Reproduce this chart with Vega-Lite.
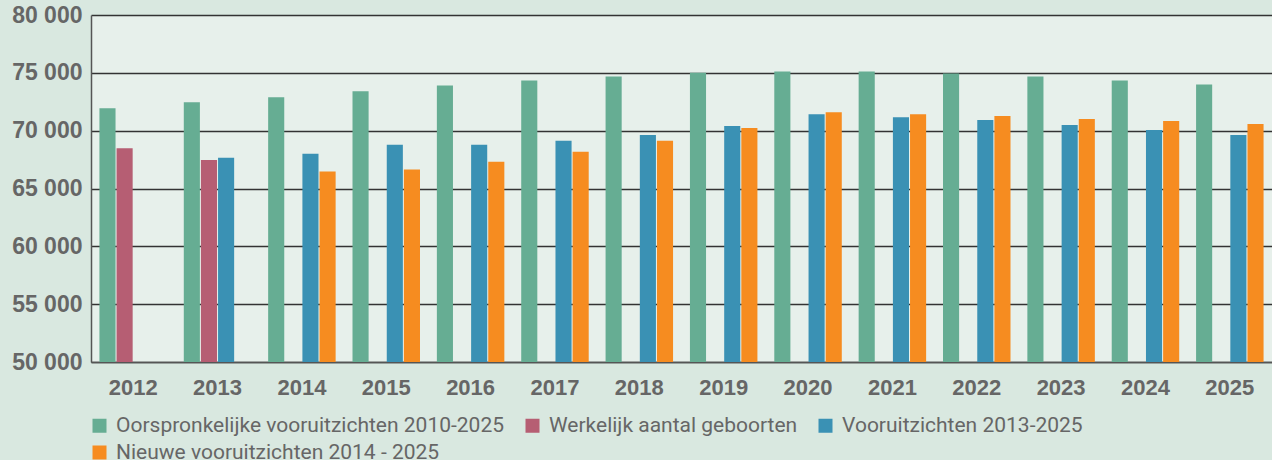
{
  "$schema": "https://vega.github.io/schema/vega-lite/v6.json",
  "autosize": {"type": "none"},
  "padding": {"left": 91, "top": 15, "right": 0, "bottom": 98},
  "width": 1181,
  "height": 347,
  "background": "#d9e8e0",
  "config": {
    "view": {"fill": "#e7f0eb", "stroke": null},
    "font": "Liberation Sans"
  },
  "data": {
    "values": [
      {"year": "2012", "series": "Oorspronkelijke vooruitzichten 2010-2025", "value": 71940},
      {"year": "2013", "series": "Oorspronkelijke vooruitzichten 2010-2025", "value": 72460},
      {"year": "2014", "series": "Oorspronkelijke vooruitzichten 2010-2025", "value": 72890},
      {"year": "2015", "series": "Oorspronkelijke vooruitzichten 2010-2025", "value": 73400},
      {"year": "2016", "series": "Oorspronkelijke vooruitzichten 2010-2025", "value": 73910},
      {"year": "2017", "series": "Oorspronkelijke vooruitzichten 2010-2025", "value": 74340},
      {"year": "2018", "series": "Oorspronkelijke vooruitzichten 2010-2025", "value": 74680},
      {"year": "2019", "series": "Oorspronkelijke vooruitzichten 2010-2025", "value": 75000},
      {"year": "2020", "series": "Oorspronkelijke vooruitzichten 2010-2025", "value": 75110},
      {"year": "2021", "series": "Oorspronkelijke vooruitzichten 2010-2025", "value": 75110},
      {"year": "2022", "series": "Oorspronkelijke vooruitzichten 2010-2025", "value": 74950},
      {"year": "2023", "series": "Oorspronkelijke vooruitzichten 2010-2025", "value": 74680},
      {"year": "2024", "series": "Oorspronkelijke vooruitzichten 2010-2025", "value": 74340},
      {"year": "2025", "series": "Oorspronkelijke vooruitzichten 2010-2025", "value": 74000},
      {"year": "2012", "series": "Werkelijk aantal geboorten", "value": 68490},
      {"year": "2013", "series": "Werkelijk aantal geboorten", "value": 67470},
      {"year": "2013", "series": "Vooruitzichten 2013-2025", "value": 67660},
      {"year": "2014", "series": "Vooruitzichten 2013-2025", "value": 68010},
      {"year": "2015", "series": "Vooruitzichten 2013-2025", "value": 68780},
      {"year": "2016", "series": "Vooruitzichten 2013-2025", "value": 68780},
      {"year": "2017", "series": "Vooruitzichten 2013-2025", "value": 69120},
      {"year": "2018", "series": "Vooruitzichten 2013-2025", "value": 69630},
      {"year": "2019", "series": "Vooruitzichten 2013-2025", "value": 70400},
      {"year": "2020", "series": "Vooruitzichten 2013-2025", "value": 71430},
      {"year": "2021", "series": "Vooruitzichten 2013-2025", "value": 71170},
      {"year": "2022", "series": "Vooruitzichten 2013-2025", "value": 70920},
      {"year": "2023", "series": "Vooruitzichten 2013-2025", "value": 70490},
      {"year": "2024", "series": "Vooruitzichten 2013-2025", "value": 70060},
      {"year": "2025", "series": "Vooruitzichten 2013-2025", "value": 69630},
      {"year": "2014", "series": "Nieuwe vooruitzichten 2014 - 2025", "value": 66460},
      {"year": "2015", "series": "Nieuwe vooruitzichten 2014 - 2025", "value": 66640},
      {"year": "2016", "series": "Nieuwe vooruitzichten 2014 - 2025", "value": 67320},
      {"year": "2017", "series": "Nieuwe vooruitzichten 2014 - 2025", "value": 68180},
      {"year": "2018", "series": "Nieuwe vooruitzichten 2014 - 2025", "value": 69120},
      {"year": "2019", "series": "Nieuwe vooruitzichten 2014 - 2025", "value": 70230},
      {"year": "2020", "series": "Nieuwe vooruitzichten 2014 - 2025", "value": 71600},
      {"year": "2021", "series": "Nieuwe vooruitzichten 2014 - 2025", "value": 71430},
      {"year": "2022", "series": "Nieuwe vooruitzichten 2014 - 2025", "value": 71260},
      {"year": "2023", "series": "Nieuwe vooruitzichten 2014 - 2025", "value": 71000},
      {"year": "2024", "series": "Nieuwe vooruitzichten 2014 - 2025", "value": 70830},
      {"year": "2025", "series": "Nieuwe vooruitzichten 2014 - 2025", "value": 70570}
    ]
  },
  "mark": {"type": "bar", "clip": true},
  "encoding": {
    "x": {
      "field": "year",
      "type": "ordinal",
      "scale": {"paddingInner": 0.2, "paddingOuter": 0.1},
      "axis": {
        "title": null,
        "labelAngle": 0,
        "labelFont": "Liberation Sans",
        "labelFontWeight": "bold",
        "labelFontSize": 22,
        "labelColor": "#666666",
        "labelPadding": 15,
        "ticks": false,
        "domainColor": "#555555",
        "domainWidth": 1.5
      }
    },
    "xOffset": {
      "field": "series",
      "type": "nominal",
      "scale": {
        "domain": ["Oorspronkelijke vooruitzichten 2010-2025", "Werkelijk aantal geboorten", "Vooruitzichten 2013-2025", "Nieuwe vooruitzichten 2014 - 2025"],
        "paddingInner": 0.06,
        "paddingOuter": 0
      }
    },
    "y": {
      "field": "value",
      "type": "quantitative",
      "scale": {"domain": [50000, 80000], "zero": false, "nice": false},
      "axis": {
        "title": null,
        "values": [50000, 55000, 60000, 65000, 70000, 75000, 80000],
        "labelExpr": "replace(format(datum.value, ','), ',', ' ')",
        "labelFont": "Liberation Sans",
        "labelFontWeight": "bold",
        "labelFontSize": 23,
        "labelColor": "#666666",
        "labelPadding": 9,
        "ticks": false,
        "grid": true,
        "gridColor": "#333333",
        "gridWidth": 1.3,
        "domainColor": "#555555",
        "domainWidth": 1.5
      }
    },
    "color": {
      "field": "series",
      "type": "nominal",
      "scale": {
        "domain": ["Oorspronkelijke vooruitzichten 2010-2025", "Werkelijk aantal geboorten", "Vooruitzichten 2013-2025", "Nieuwe vooruitzichten 2014 - 2025"],
        "range": ["#66ad93", "#b65e73", "#3a91b4", "#f68c20"]
      },
      "legend": {
        "title": null,
        "orient": "none",
        "legendX": -2,
        "legendY": 400,
        "direction": "horizontal",
        "columns": 3,
        "symbolType": "square",
        "symbolSize": 196,
        "symbolStrokeWidth": 0,
        "symbolOpacity": 1,
        "labelFont": "Roboto",
        "labelFontSize": 21,
        "labelColor": "#666666",
        "labelOffset": 6,
        "labelLimit": 600,
        "columnPadding": 17,
        "rowPadding": 5
      }
    }
  }
}
